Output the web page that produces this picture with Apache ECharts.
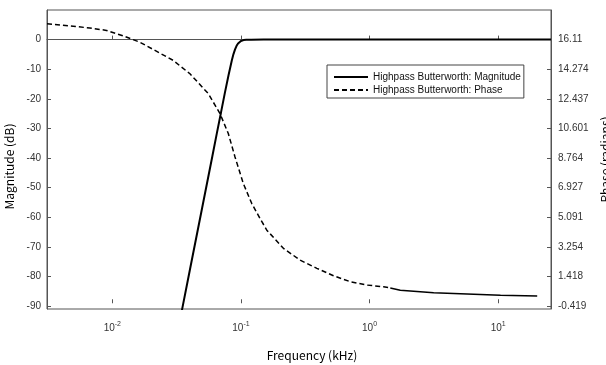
<!DOCTYPE html>
<html>
<head>
<meta charset="utf-8">
<script src="https://cdn.jsdelivr.net/npm/echarts@6/dist/echarts.min.js"></script>
<style>
html,body{margin:0;padding:0;background:#fff;}
#chart{width:606px;height:365px;}
</style>
</head>
<body>
<div id="chart"></div>
<script>
// ---- data ----
const magFreq = [0.03, 0.035, 0.04, 0.05, 0.06, 0.065, 0.07, 0.075, 0.08, 0.085, 0.0875, 0.09, 0.0925, 0.095, 0.1, 0.105, 0.11, 0.12, 0.15, 0.3, 1, 10, 25.76];
const magDb   = [-105.5, -90.8, -78.0, -56.7, -39.3, -31.6, -24.6, -18.0, -12.1, -7.0, -4.9, -3.3, -2.1, -1.3, -0.46, -0.16, -0.06, -0.01, 0, 0, 0, 0, 0];

const phaseFreq = [0.003105, 0.004955, 0.00668, 0.009015, 0.01207, 0.01637, 0.02975, 0.04015, 0.05573, 0.06874, 0.07977, 0.08995, 0.1044, 0.1214, 0.1408, 0.1589, 0.2139, 0.2886, 0.3894, 0.5243, 0.7075, 0.9545, 1.285, 1.45];
const phaseRad  = [17.09, 16.94, 16.83, 16.68, 16.35, 15.95, 14.82, 13.99, 12.76, 11.52, 10.28, 8.83, 7.18, 5.94, 5.01, 4.29, 3.16, 2.43, 1.92, 1.46, 1.09, 0.88, 0.78, 0.70];
const tailFreq  = [1.45, 1.734, 3.151, 5.736, 10.43, 20.12];
const tailRad   = [0.70, 0.56, 0.41, 0.33, 0.25, 0.20];

const magTicks   = [-90, -80, -70, -60, -50, -40, -30, -20, -10, 0];
const phaseTickLabels = ['-0.419', '1.418', '3.254', '5.091', '6.927', '8.764', '10.601', '12.437', '14.274', '16.11'];
const phaseTicks = phaseTickLabels.map(Number);

const seriesNames = ['Highpass Butterworth: Magnitude', 'Highpass Butterworth: Phase'];

const xMin = 0.003105, xMax = 25.76;
const yMin = -91, yMax = 10;
const pMin = -0.603, pMax = 17.947;

const zip = (a, b) => a.map((v, i) => [v, b[i]]);
const axisColor = '#555';
const labelFont = "'Liberation Sans', Arial, sans-serif";
const titleFont = "'Noto Sans CJK KR', sans-serif";

const chart = echarts.init(document.getElementById('chart'), null, {renderer: 'canvas'});
chart.setOption({
  animation: false,
  backgroundColor: '#fff',
  grid: {left: 47, right: 55, top: 10, bottom: 56, outerBoundsMode: 'none', containLabel: false,
         show: true, borderColor: axisColor, borderWidth: 1, backgroundColor: 'transparent'},
  legend: {
    data: seriesNames,
    orient: 'vertical',
    left: 327, top: 65,
    padding: [7, 3, 3, 6],
    itemGap: 3,
    itemWidth: 34, itemHeight: 12,
    backgroundColor: '#fff',
    borderColor: '#444', borderWidth: 1,
    itemStyle: {opacity: 0},
    textStyle: {fontFamily: labelFont, fontSize: 10, color: '#111'}
  },
  xAxis: [{
    type: 'log', logBase: 10, min: xMin, max: xMax,
    position: 'bottom',
    name: 'Frequency (kHz)', nameLocation: 'middle', nameGap: 40,
    nameTextStyle: {fontFamily: titleFont, fontSize: 12, color: '#000', padding: [0, 0, 0, 26]},
    axisLine: {show: true, lineStyle: {color: axisColor}},
    axisTick: {inside: true, length: 4, lineStyle: {color: axisColor}},
    minorTick: {show: false},
    splitLine: {show: false},
    axisLabel: {
      margin: 12, showMinLabel: false, showMaxLabel: false,
      formatter: v => '{b|10}{s|' + Math.round(Math.log10(v)) + '}',
      rich: {
        b: {fontFamily: labelFont, fontSize: 10, color: '#333'},
        s: {fontFamily: labelFont, fontSize: 7, color: '#333', padding: [0, 0, 7, 0]}
      }
    }
  }, {
    type: 'log', logBase: 10, min: xMin, max: xMax,
    position: 'top',
    axisLine: {show: false},
    axisTick: {inside: true, length: 4, lineStyle: {color: axisColor}},
    axisLabel: {show: false},
    splitLine: {show: false}
  }],
  yAxis: [{
    type: 'value', min: yMin, max: yMax, position: 'left',
    name: 'Magnitude (dB)', nameLocation: 'middle', nameGap: 26, nameRotate: 90,
    nameTextStyle: {fontFamily: titleFont, fontSize: 12, color: '#000', padding: [0, 14, 0, 0]},
    axisLine: {show: true, lineStyle: {color: axisColor}},
    axisTick: {inside: true, length: 4, customValues: magTicks, lineStyle: {color: axisColor}},
    axisLabel: {margin: 6, customValues: magTicks, fontFamily: labelFont, fontSize: 10, color: '#333'},
    splitLine: {show: false}
  }, {
    type: 'value', min: pMin, max: pMax, position: 'right',
    name: 'Phase (radians)', nameLocation: 'middle', nameGap: 44, nameRotate: 90,
    nameTextStyle: {fontFamily: titleFont, fontSize: 12, color: '#000'},
    axisLine: {show: true, lineStyle: {color: axisColor}},
    axisTick: {inside: true, length: 4, customValues: phaseTicks, lineStyle: {color: axisColor}},
    axisLabel: {margin: 7, customValues: phaseTicks, fontFamily: labelFont, fontSize: 10, color: '#333',
      formatter: v => { const i = phaseTicks.indexOf(v); return i >= 0 ? phaseTickLabels[i] : String(v); }},
    splitLine: {show: false}
  }],
  series: [{
    name: seriesNames[0], type: 'line', xAxisIndex: 0, yAxisIndex: 0,
    data: zip(magFreq, magDb), symbol: 'none', clip: true,
    lineStyle: {color: '#000', width: 2}, itemStyle: {color: '#000'}
  }, {
    name: seriesNames[1], type: 'line', xAxisIndex: 0, yAxisIndex: 1,
    data: zip(phaseFreq, phaseRad), symbol: 'none', clip: true,
    lineStyle: {color: '#000', width: 1.5, type: [5, 3]}, itemStyle: {color: '#000'}
  }, {
    name: seriesNames[1], type: 'line', xAxisIndex: 0, yAxisIndex: 1,
    data: zip(tailFreq, tailRad), symbol: 'none', clip: true,
    lineStyle: {color: '#000', width: 1.5}, itemStyle: {color: '#000'}
  }]
});
</script>
</body>
</html>
